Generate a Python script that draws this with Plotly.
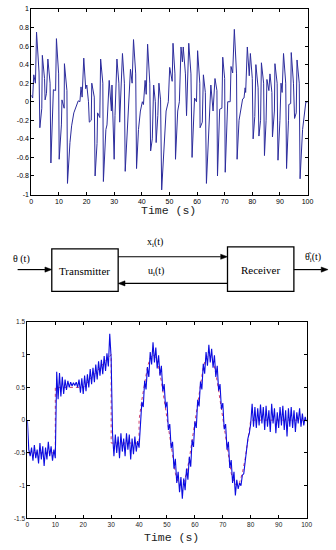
import plotly.graph_objects as go

W, H = 336, 550

# ---------------- data: top chart (chaotic carrier signal) ----------------
t_top = [0, 0.5, 0.9, 1.5, 1.9, 2.8, 3.1, 3.8, 4.0, 4.8, 5.0, 5.5, 6.0, 6.8, 7.1, 7.8, 8.0, 8.8, 9.1, 9.9,
         10.1, 10.9, 11.1, 11.9, 12.0, 12.9, 13.1, 14.0, 14.6, 15.4, 16.4, 17.0, 17.6, 18.0, 18.4, 19.0, 19.7,
         20.1, 20.7, 21.0, 21.7, 21.9, 22.8, 23.1, 23.8, 24.0, 24.8, 25.1, 25.9, 26.1, 27.0, 27.4, 28.2, 28.8,
         29.0, 29.2, 30.0, 30.3, 31.0, 31.7, 32.0, 33.0, 33.7, 34.0, 34.7, 35.9, 36.5, 37.0, 37.8, 38.1, 38.8,
         39.5, 40.2, 40.6, 41.2, 41.6, 42.1, 42.9, 43.2, 43.8, 44.3, 44.9, 45.2, 45.8, 46.2, 46.8, 47.2, 48.0,
         48.8, 49.6, 50.1, 51.0, 51.3, 52.0, 52.2, 53.0, 53.6, 54.2, 54.7, 55.0, 55.8, 56.2, 57.0, 57.8, 58.2,
         59.1, 59.8, 60.2, 61.0, 61.1, 61.9, 62.3, 63.0, 63.4, 64.2, 65.0, 65.8, 66.5, 67.2, 67.4, 68.2, 69.0,
         69.3, 70.0, 70.2, 71.1, 72.0, 72.3, 72.9, 73.5, 74.3, 74.5, 75.2, 75.9, 76.5, 77.0, 77.4, 77.6, 78.2,
         78.9, 79.3, 80.0, 80.3, 80.9, 81.3, 82.1, 82.4, 83.0, 83.3, 84.1, 84.4, 85.0, 85.3, 86.0, 86.4, 87.1,
         87.3, 88.0, 88.2, 89.0, 89.3, 90.0, 90.4, 90.8, 91.3, 92.1, 92.4, 93.1, 93.2, 93.9, 94.1, 94.9, 95.3,
         95.9, 96.2, 97.0, 97.3, 98.2, 98.8, 99.4, 100]
v_top = [0.07, 0.04, 0.29, 0.2, 0.75, 0.32, -0.28, -0.07, 0.5, 0.25, 0.02, 0.09, 0.46, 0.2, -0.66, -0.17, 0.13, 0.12, 0.68, 0.3,
         -0.62, -0.25, 0.02, -0.07, 0.41, 0.12, -0.88, -0.44, -0.26, -0.12, -0.05, 0.01, 0.0, 0.16, 0.05, 0.47, 0.14,
         0.18, 0.0, -0.22, -0.2, 0.2, 0.05, -0.8, -0.45, -0.12, -0.17, 0.46, 0.2, -0.86, -0.3, -0.25, 0.23, 0.0,
         -0.1, 0.18, -0.62, -0.15, 0.46, 0.2, -0.22, 0.52, 0.2, -0.75, -0.35, 0.35, 0.2, 0.67, 0.3, -0.72, -0.3,
         -0.1, 0.0, -0.03, 0.23, 0.08, 0.62, 0.2, -0.53, -0.4, 0.18, 0.0, -0.44, -0.15, 0.2, 0.02, -0.95, -0.5,
         -0.1, 0.0, 0.37, 0.22, 0.63, 0.3, -0.62, -0.1, 0.0, 0.59, 0.43, 0.59, 0.3, -0.15, 0.63, 0.3, -0.6,
         0.04, 0.0, 0.55, 0.2, -0.28, -0.22, 0.29, 0.1, -0.88, -0.4, 0.18, -0.1, 0.25, 0.12, -0.8, -0.08, -0.07,
         0.48, 0.25, -0.76, 0.0, 0.0, 0.38, 0.31, 0.78, 0.3, -0.62, -0.2, -0.05, 0.03, 0.04, 0.15, 0.1, 0.59,
         0.28, 0.52, 0.25, -0.4, -0.16, 0.4, 0.15, -0.37, -0.2, 0.42, 0.2, -0.58, -0.2, 0.24, 0.12, 0.3, 0.1,
         -0.38, -0.1, 0.41, 0.2, -0.63, -0.2, 0.2, 0.1, 0.52, 0.2, -0.72, -0.2, -0.03, -0.02, 0.53, 0.2, -0.18,
         -0.12, 0.45, 0.2, -0.83, -0.3, -0.15, 0.0, -0.01]

top_yticks = [-1, -0.8, -0.6, -0.4, -0.2, 0, 0.2, 0.4, 0.6, 0.8, 1]
top_yticklabels = ["-1", "-0.8", "-0.6", "-0.4", "-0.2", "0", "0.2", "0.4", "0.6", "0.8", "1"]
xticks = [0, 10, 20, 30, 40, 50, 60, 70, 80, 90, 100]
xticklabels = ["0", "10", "20", "30", "40", "50", "60", "70", "80", "90", "100"]

# ---------------- data: bottom chart (estimate vs reference) ----------------
t_est_step = 0.5  # sampling interval of the estimate (s)
v_est = [0.0, -0.45, -0.55, -0.42, -0.62, -0.38, -0.58, -0.45, -0.66, -0.35,      # 0 - 4.5
         -0.6, -0.4, -0.7, -0.42, -0.6, -0.33, -0.55, -0.4, -0.62, -0.45,        # 5 - 9.5
         -0.58, 0.74, 0.32, 0.72, 0.36, 0.66, 0.4, 0.62, 0.46, 0.6,              # 10 - 14.5
         0.5, 0.58, 0.52, 0.57, 0.53, 0.58, 0.5, 0.62, 0.42, 0.64,               # 15 - 19.5
         0.4, 0.68, 0.44, 0.7, 0.5, 0.78, 0.55, 0.8, 0.58, 0.85,                 # 20 - 24.5
         0.62, 0.9, 0.68, 0.92, 0.7, 0.98, 0.75, 1.02, 0.82, 1.32,               # 25 - 29.5
         0.95, -0.2, -0.55, -0.22, -0.5, -0.25, -0.58, -0.2, -0.48, -0.28,       # 30 - 34.5
         -0.55, -0.2, -0.45, -0.22, -0.6, -0.28, -0.52, -0.25, -0.48, -0.32,     # 35 - 39.5
         -0.42, -0.1, 0.28, 0.2, 0.6, 0.47, 0.81, 0.66, 1.04, 0.85,              # 40 - 44.5
         1.19, 0.88, 1.11, 0.79, 0.99, 0.68, 0.83, 0.44, 0.55, 0.19,             # 45 - 49.5
         0.28, -0.15, -0.06, -0.43, -0.33, -0.74, -0.59, -0.96, -0.79, -1.1,     # 50 - 54.5
         -0.87, -1.2, -0.89, -1.07, -0.74, -0.91, -0.56, -0.71, -0.3, -0.41,     # 55 - 59.5
         -0.02, -0.12, 0.31, 0.21, 0.59, 0.47, 0.86, 0.71, 1.04, 0.83,           # 60 - 64.5
         1.15, 0.88, 1.09, 0.8, 0.99, 0.66, 0.83, 0.45, 0.55, 0.17,              # 65 - 69.5
         0.26, -0.14, -0.06, -0.45, -0.33, -0.73, -0.61, -0.96, -0.79, -1.15,    # 70 - 74.5
         -0.91, -1.05, -0.96, -1.0, -0.84, -0.82, -0.62, -0.5, -0.28, -0.2,      # 75 - 79.5
         -0.05, 0.25, -0.1, 0.2, -0.12, 0.18, -0.08, 0.24, -0.05, 0.2,           # 80 - 84.5
         -0.15, 0.22, -0.1, 0.15, -0.18, 0.25, -0.05, 0.18, -0.2, 0.12,          # 85 - 89.5
         -0.12, 0.2, -0.08, 0.22, -0.15, 0.15, -0.25, 0.18, -0.1, 0.2,           # 90 - 94.5
         -0.12, 0.15, -0.18, 0.12, -0.05, 0.18, -0.1, 0.1, -0.08, 0.05,          # 95 - 99.5
         -0.02]                                                                   # 100
t_est = [i * t_est_step for i in range(len(v_est))]

t_ref = [0, 10, 10, 20, 30, 30, 40, 40,
         41, 42, 43, 44, 45, 46, 47, 48, 49, 50,
         51, 52, 53, 54, 55, 56, 57, 58, 59, 60,
         61, 62, 63, 64, 65, 66, 67, 68, 69, 70,
         71, 72, 73, 74, 75, 76, 77, 78, 79, 80, 100]
v_ref = [-0.5, -0.5, 0.5, 0.5, 1.0, -0.35, -0.35, 0.0,
         0.31, 0.59, 0.81, 0.95, 1.0, 0.95, 0.81, 0.59, 0.31, 0.0,
         -0.31, -0.59, -0.81, -0.95, -1.0, -0.95, -0.81, -0.59, -0.31, 0.0,
         0.31, 0.59, 0.81, 0.95, 1.0, 0.95, 0.81, 0.59, 0.31, 0.0,
         -0.31, -0.59, -0.81, -0.95, -1.0, -0.95, -0.81, -0.59, -0.31, 0.0, 0.0]

bot_yticks = [-1.5, -1, -0.5, 0, 0.5, 1, 1.5]
bot_yticklabels = ["-1.5", "-1", "-0.5", "0", "0.5", "1", "1.5"]

# ---------------- diagram text ----------------
lbl_in = "θ (t)"
lbl_tx = "Transmitter"
lbl_rx = "Receiver"
lbl_x = "x<sub>i</sub>(t)"
lbl_u = "u<sub>i</sub>(t)"
lbl_out = "θ\u0302<sub>i</sub>(t)"
xlabel = "Time (s)"


def px(x):
    return x / W


def py(y):
    return 1 - y / H


fig = go.Figure()
fig.add_trace(go.Scatter(x=t_top, y=v_top, mode="lines", line=dict(color="#2c2c9c", width=1),
                         xaxis="x", yaxis="y", showlegend=False, hoverinfo="skip"))
fig.add_trace(go.Scatter(x=t_ref, y=v_ref, mode="lines", line=dict(color="#d0406a", width=1, dash="dot"),
                         xaxis="x2", yaxis="y2", showlegend=False, hoverinfo="skip"))
fig.add_trace(go.Scatter(x=t_est, y=v_est, mode="lines", line=dict(color="#0c0ce0", width=1.1),
                         xaxis="x2", yaxis="y2", showlegend=False, hoverinfo="skip"))

tickfont = dict(family="Liberation Sans, Arial, sans-serif", size=7, color="#000")
tickfont2 = dict(family="Liberation Sans, Arial, sans-serif", size=6.5, color="#222")
axcommon = dict(showline=True, linecolor="#000", linewidth=1, mirror="ticks", ticks="inside",
                ticklen=3, tickcolor="#000", showgrid=False, zeroline=False)

fig.update_layout(
    width=W, height=H, autosize=False,
    margin=dict(l=0, r=0, t=0, b=0),
    paper_bgcolor="white", plot_bgcolor="white",
    xaxis=dict(domain=[px(30), px(313)], range=[0, 100], tickvals=xticks, ticktext=xticklabels,
               anchor="y", tickfont=tickfont, **axcommon),
    yaxis=dict(domain=[py(193), py(5)], range=[-1, 1], tickvals=top_yticks, ticktext=top_yticklabels,
               anchor="x", tickfont=tickfont, **axcommon),
    xaxis2=dict(domain=[px(26), px(312)], range=[0, 100], tickvals=xticks, ticktext=xticklabels,
                anchor="y2", tickfont=tickfont2, **axcommon),
    yaxis2=dict(domain=[py(521), py(322)], range=[-1.5, 1.5], tickvals=bot_yticks, ticktext=bot_yticklabels,
                anchor="x2", tickfont=tickfont2, **axcommon),
)

mono = dict(family="Liberation Mono, Courier New, monospace", size=11.5, color="#222")
serif = dict(family="Liberation Serif, Times New Roman, serif", size=11, color="#000")
serif10 = dict(family="Liberation Serif, Times New Roman, serif", size=10, color="#000")

ann = []
ann.append(dict(x=px(171), y=py(209), text=xlabel, font=mono))
ann.append(dict(x=px(174), y=py(540), text=xlabel, font=mono))
ann.append(dict(x=px(85), y=py(270), text=lbl_tx, font=serif))
ann.append(dict(x=px(265), y=py(269), text=lbl_rx, font=serif))
ann.append(dict(x=px(20), y=py(258), text=lbl_in, font=serif10))
ann.append(dict(x=px(157), y=py(242), text=lbl_x, font=serif10))
ann.append(dict(x=px(158), y=py(271), text=lbl_u, font=serif10))
ann.append(dict(x=px(319), y=py(257), text=lbl_out, font=serif10))
for a in ann:
    a.update(xref="paper", yref="paper", showarrow=False, xanchor="center", yanchor="middle")

# diagram: boxes
shapes = []
for (x0, y0, x1, y1) in [(51, 248, 119, 291), (231, 246, 299, 291)]:
    shapes.append(dict(type="rect", xref="paper", yref="paper", x0=px(x0), x1=px(x1), y0=py(y1), y1=py(y0),
                       line=dict(color="#000", width=1.3), fillcolor="rgba(0,0,0,0)"))

# diagram: arrows (tail_x, head_x, y) horizontal
HL, HW = 7, 2.6
for (xt, xh, yy) in [(16, 51, 269), (119, 231, 256), (231, 119, 283), (299, 334, 269)]:
    d = 1 if xh > xt else -1
    xb = xh - d * HL
    shapes.append(dict(type="line", xref="paper", yref="paper", x0=px(xt), x1=px(xb), y0=py(yy), y1=py(yy),
                       line=dict(color="#000", width=1.2)))
    path = "M {:.5f},{:.5f} L {:.5f},{:.5f} L {:.5f},{:.5f} Z".format(
        px(xh), py(yy), px(xb), py(yy - HW), px(xb), py(yy + HW))
    shapes.append(dict(type="path", xref="paper", yref="paper", path=path,
                       fillcolor="#000", line=dict(color="#000", width=0.5)))

fig.update_layout(annotations=ann, shapes=shapes)
fig.write_html("out.html", config={"displayModeBar": False},
               post_script="document.body.style.margin='0';document.body.style.padding='0';")
